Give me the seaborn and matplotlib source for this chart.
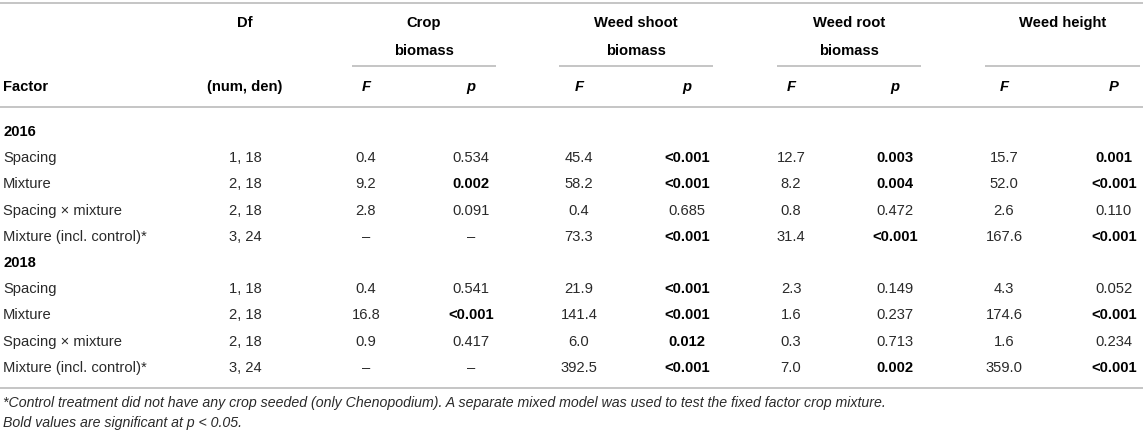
import matplotlib
matplotlib.use("Agg")
import matplotlib.pyplot as plt
import seaborn as sns

sns.set_theme(style="white")
plt.rcParams['font.family'] = ['Liberation Sans', 'DejaVu Sans']

# datos de la tabla
years = ["2016", "2018"]
factors = ["Spacing", "Mixture", "Spacing \u00d7 mixture", "Mixture (incl. control)*"]
df_vals = ["1, 18", "2, 18", "2, 18", "3, 24"]

groups = ["Crop\nbiomass", "Weed shoot\nbiomass", "Weed root\nbiomass", "Weed height"]
stat_labels = ["F", "p", "F", "p", "F", "p", "F", "P"]

crop_F = ["0.4", "9.2", "2.8", "\u2013", "0.4", "16.8", "0.9", "\u2013"]
crop_p = ["0.534", "0.002", "0.091", "\u2013", "0.541", "<0.001", "0.417", "\u2013"]
shoot_F = ["45.4", "58.2", "0.4", "73.3", "21.9", "141.4", "6.0", "392.5"]
shoot_p = ["<0.001", "<0.001", "0.685", "<0.001", "<0.001", "<0.001", "0.012", "<0.001"]
root_F = ["12.7", "8.2", "0.8", "31.4", "2.3", "1.6", "0.3", "7.0"]
root_p = ["0.003", "0.004", "0.472", "<0.001", "0.149", "0.237", "0.713", "0.002"]
height_F = ["15.7", "52.0", "2.6", "167.6", "4.3", "174.6", "1.6", "359.0"]
height_p = ["0.001", "<0.001", "0.110", "<0.001", "0.052", "<0.001", "0.234", "<0.001"]

footnote1 = ("*Control treatment did not have any crop seeded (only Chenopodium). "
             "A separate mixed model was used to test the fixed factor crop mixture.")
footnote2 = "Bold values are significant at p < 0.05."

columns = [crop_F, crop_p, shoot_F, shoot_p, root_F, root_p, height_F, height_p]


def es_significativo(v):
    if v.startswith("<"):
        return True
    try:
        return float(v) < 0.05
    except ValueError:
        return False


# figura en pixeles
W, H = 1143, 436
fig = plt.figure(figsize=(W / 100, H / 100), dpi=100)
ax = fig.add_axes([0, 0, 1, 1])
ax.set_xlim(0, W)
ax.set_ylim(H, 0)
ax.axis("off")

fs = 10.6
txt = "#2a2a2a"
line_c = "#b5b5b5"
lw = 1.1

x_factor = 3
x_df = 245
x_cols = [366, 471, 579, 687, 791, 895, 1004, 1114]
spans = [(352, 496), (559, 713), (777, 921), (985, 1140)]

# lineas
ax.hlines(3, 0, W, color=line_c, lw=lw)
for a, b in spans:
    ax.hlines(66, a, b, color=line_c, lw=lw)
ax.hlines(107, 0, W, color=line_c, lw=lw)
ax.hlines(388, 0, W, color=line_c, lw=lw)

# encabezados
ax.text(x_df, 27, "Df", ha="center", va="baseline", fontsize=fs, fontweight="bold", color="black")
for (a, b), g in zip(spans, groups):
    lines = g.split("\n")
    for k, ln in enumerate(lines):
        ax.text((a + b) / 2, 27 + 28 * k, ln, ha="center", va="baseline",
                fontsize=fs, fontweight="bold", color="black")
ax.text(x_factor, 91, "Factor", ha="left", va="baseline", fontsize=fs, fontweight="bold", color="black")
ax.text(x_df, 91, "(num, den)", ha="center", va="baseline", fontsize=fs, fontweight="bold", color="black")
for x, s in zip(x_cols, stat_labels):
    ax.text(x, 91, s, ha="center", va="baseline", fontsize=fs, fontweight="bold",
            fontstyle="italic", color="black")

# filas
step = 26.2
y = 136
i = 0
for yr in years:
    ax.text(x_factor, y, yr, ha="left", va="baseline", fontsize=fs, fontweight="bold", color="black")
    y += step
    for j, fac in enumerate(factors):
        ax.text(x_factor, y, fac, ha="left", va="baseline", fontsize=fs, color=txt)
        ax.text(x_df, y, df_vals[j], ha="center", va="baseline", fontsize=fs, color=txt)
        for c, col in enumerate(columns):
            v = col[i]
            bold = c % 2 == 1 and es_significativo(v)
            ax.text(x_cols[c], y, v, ha="center", va="baseline", fontsize=fs,
                    fontweight="bold" if bold else "normal",
                    color="black" if bold else txt)
        y += step
        i += 1

# notas al pie
ax.text(3, 407, footnote1, ha="left", va="baseline", fontsize=10.15, fontstyle="italic", color=txt)
ax.text(3, 427, footnote2, ha="left", va="baseline", fontsize=10.15, fontstyle="italic", color=txt)

fig.savefig("out.png", dpi=100, facecolor="white")
